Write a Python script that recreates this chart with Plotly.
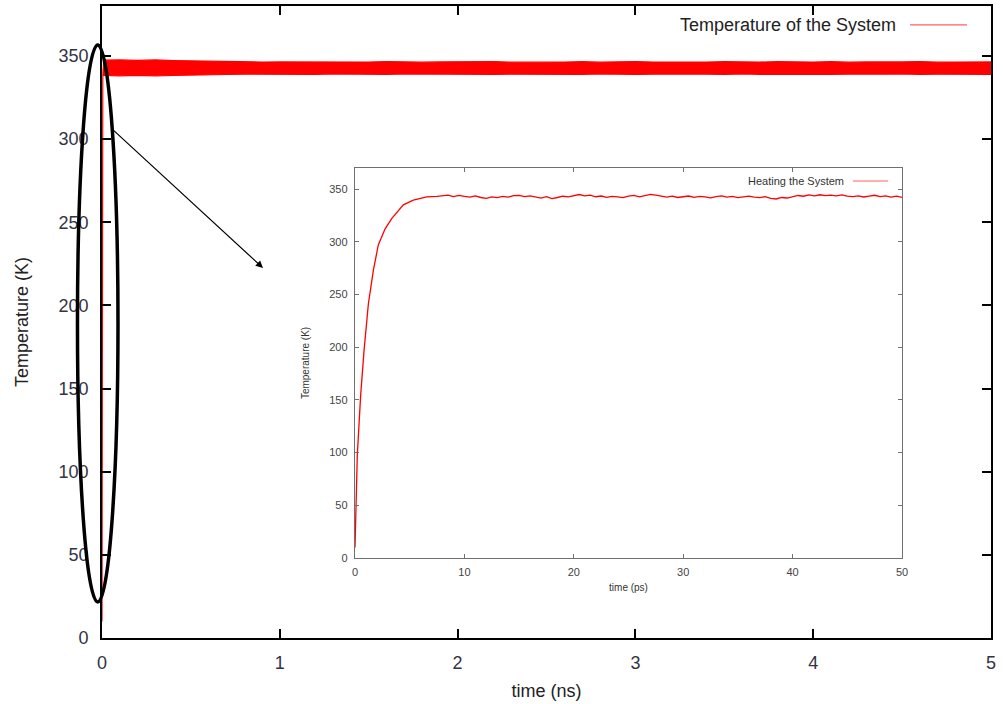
import plotly.graph_objects as go

# ---------------- data ----------------
# Heating ramp (inset), time in ps, temperature in K
ramp_t_ps = [0.0, 0.05, 0.21, 0.52, 0.82, 1.22, 1.68, 2.13, 2.74, 3.35, 3.96, 4.42, 5.33, 6.55, 7.5]
ramp_K = [10, 40, 98, 155, 196, 241, 273, 297, 312, 322, 330, 335, 339.5, 342.5, 343.0]

# Plateau of the inset curve (ps, K)
plateau_t_ps = [8.0, 8.5, 9.0, 9.5, 10.0, 10.5, 11.0, 11.5, 12.0, 12.5, 13.0, 13.5, 14.0, 14.5,
                15.0, 15.5, 16.0, 16.5, 17.0, 17.5, 18.0, 18.5, 19.0, 19.5, 20.0, 20.5, 21.0, 21.5,
                22.0, 22.5, 23.0, 23.5, 24.0, 24.5, 25.0, 25.5, 26.0, 26.5, 27.0, 27.5, 28.0, 28.5,
                29.0, 29.5, 30.0, 30.5, 31.0, 31.5, 32.0, 32.5, 33.0, 33.5, 34.0, 34.5, 35.0, 35.5,
                36.0, 36.5, 37.0, 37.5, 38.0, 38.5, 39.0, 39.5, 40.0, 40.5, 41.0, 41.5, 42.0, 42.5,
                43.0, 43.5, 44.0, 44.5, 45.0, 45.5, 46.0, 46.5, 47.0, 47.5, 48.0, 48.5, 49.0, 49.5, 50.0]
plateau_K = [343.5, 344.2, 342.8, 344.0, 343.1, 342.4, 343.6, 342.0, 341.2, 342.5, 341.8, 343.0, 342.3, 343.8,
             344.1, 342.9, 343.5, 342.2, 341.5, 342.8, 341.0, 342.0, 343.2, 342.6, 344.0, 344.8, 343.5, 344.3,
             342.7, 343.4, 342.1, 343.0, 342.5, 341.8, 343.2, 344.0, 342.6, 343.8, 344.9, 344.2, 343.0, 342.4,
             343.3, 342.0, 342.7, 343.4, 342.2, 343.1, 342.5, 341.6, 342.8, 343.6, 342.3, 343.0, 341.9, 342.6,
             343.3, 342.4, 341.8, 342.9, 341.2, 340.6, 342.0, 341.5, 342.8, 343.9, 343.2, 344.4, 343.6, 344.6,
             343.8, 344.2, 343.5, 344.5, 343.4, 342.8, 343.6, 342.5, 343.3, 344.1, 342.9, 343.6, 342.4, 343.3, 342.0]

# Main run: fluctuation band of the temperature (ns, K)
band_t_ns = [0.005, 0.1, 0.2, 0.3, 0.4, 0.5, 0.6, 0.7, 0.8, 0.9, 1.0, 1.1, 1.2, 1.3, 1.4, 1.5, 1.6,
             1.7, 1.8, 1.9, 2.0, 2.1, 2.2, 2.3, 2.4, 2.5, 2.6, 2.7, 2.8, 2.9, 3.0, 3.1, 3.2, 3.3,
             3.4, 3.5, 3.6, 3.7, 3.8, 3.9, 4.0, 4.1, 4.2, 4.3, 4.4, 4.5, 4.6, 4.7, 4.8, 4.9, 5.0]
band_upper_K = [347.4, 347.6, 347.3, 347.6, 347.2, 347.0, 346.6, 346.4, 346.5, 346.3, 346.4, 346.3, 346.5,
                346.2, 346.4, 346.3, 346.6, 346.3, 346.2, 346.4, 346.5, 346.3, 346.6, 346.2, 346.4, 346.2,
                346.3, 346.5, 346.2, 346.4, 346.6, 346.3, 346.2, 346.4, 346.3, 346.5, 346.2, 346.3, 346.5,
                346.2, 346.3, 346.5, 346.2, 346.4, 346.3, 346.4, 346.6, 346.2, 346.3, 346.5, 346.4]
band_lower_K = [338.2, 338.0, 338.3, 338.0, 338.2, 338.5, 338.9, 338.8, 339.0, 338.9, 339.1, 339.0, 338.8,
                339.1, 338.9, 339.0, 338.8, 339.1, 339.0, 338.9, 339.1, 339.0, 338.8, 339.0, 338.9, 339.1,
                339.0, 338.8, 339.1, 338.9, 338.8, 339.0, 339.1, 338.9, 339.0, 338.8, 339.1, 338.9, 338.8,
                339.1, 339.0, 338.9, 339.0, 338.8, 339.0, 339.1, 338.8, 339.0, 338.9, 339.0, 338.9]

main_xticks = [0, 1, 2, 3, 4, 5]
main_yticks = [0, 50, 100, 150, 200, 250, 300, 350]
inset_xticks = [0, 10, 20, 30, 40, 50]
inset_yticks = [0, 50, 100, 150, 200, 250, 300, 350]

main_legend = "Temperature of the System"
inset_legend = "Heating the System"

# ---------------- figure ----------------
RED = "#ff0000"
FONT = "Liberation Sans, Arial"
fig = go.Figure()

# main plot: ramp at t≈0 (converted ps -> ns)
fig.add_trace(go.Scatter(x=[t / 1000.0 for t in ramp_t_ps], y=ramp_K, mode="lines",
                         line=dict(color=RED, width=1.2), name=main_legend, showlegend=False,
                         xaxis="x", yaxis="y"))
fig.add_trace(go.Scatter(x=band_t_ns, y=band_upper_K, mode="lines",
                         line=dict(color=RED, width=1.2), showlegend=False, xaxis="x", yaxis="y"))
fig.add_trace(go.Scatter(x=band_t_ns, y=band_lower_K, mode="lines", fill="tonexty",
                         fillcolor=RED, line=dict(color=RED, width=1.2), showlegend=False,
                         xaxis="x", yaxis="y"))

# inset: heating curve
fig.add_trace(go.Scatter(x=ramp_t_ps + plateau_t_ps, y=ramp_K + plateau_K, mode="lines",
                         line=dict(color=RED, width=1.3), name=inset_legend, showlegend=False,
                         xaxis="x2", yaxis="y2"))

main_axis_common = dict(showgrid=False, zeroline=False, showline=True, linecolor="black",
                        linewidth=1.6, mirror="ticks", ticks="inside", ticklen=9, tickwidth=1.5,
                        tickcolor="black", tickfont=dict(family=FONT, size=18, color="#333344"))
inset_axis_common = dict(showgrid=False, zeroline=False, showline=True, linecolor="#707070",
                         linewidth=1.4, mirror="ticks", ticks="inside", ticklen=4, tickwidth=1,
                         tickcolor="#707070", tickfont=dict(family=FONT, size=11, color="#444444"))

fig.update_layout(
    width=1003, height=704,
    margin=dict(l=102, r=12, t=6, b=66),
    paper_bgcolor="white", plot_bgcolor="white",
    template="none",
    showlegend=False,
    xaxis=dict(range=[0, 5], tickvals=main_xticks, ticklabelstandoff=8,
               title=dict(text="time (ns)", standoff=12,
                          font=dict(family=FONT, size=18, color="#222222")),
               **main_axis_common),
    yaxis=dict(range=[0, 380], tickvals=main_yticks, ticklabelstandoff=8,
               title=dict(text="Temperature (K)", standoff=25,
                          font=dict(family=FONT, size=18, color="#222222")),
               **main_axis_common),
    xaxis2=dict(domain=[0.2846, 0.8999], anchor="y2", range=[0, 50], tickvals=inset_xticks,
                ticklabelstandoff=4,
                title=dict(text="time (ps)", standoff=6,
                           font=dict(family=FONT, size=10, color="#333333")),
                **inset_axis_common),
    yaxis2=dict(domain=[0.1266, 0.7437], anchor="x2", range=[0, 370], tickvals=inset_yticks,
                ticklabelstandoff=4,
                title=dict(text="Temperature (K)", standoff=17,
                           font=dict(family=FONT, size=10, color="#333333")),
                **inset_axis_common),
)

shapes = [
    # highlight ellipse around the t≈0 ramp
    dict(type="circle", xref="paper", yref="paper", x0=-0.0276, x1=0.018, y0=0.057, y1=0.9383,
         line=dict(color="black", width=3.5), layer="above"),
    # legend sample lines
    dict(type="line", xref="paper", yref="paper", x0=0.9089, x1=0.9730, y0=0.970, y1=0.970,
         line=dict(color="#ff6060", width=1.2)),
    dict(type="line", xref="paper", yref="paper", x0=0.8448, x1=0.8841, y0=0.7231, y1=0.7231,
         line=dict(color="#ff6060", width=1)),
]
fig.update_layout(shapes=shapes)

fig.add_annotation(x=0.8954, y=0.970, xref="paper", yref="paper", text=main_legend,
                   showarrow=False, xanchor="right", yanchor="middle",
                   font=dict(family=FONT, size=18, color="#222222"))
fig.add_annotation(x=0.8369, y=0.7231, xref="paper", yref="paper", text=inset_legend,
                   showarrow=False, xanchor="right", yanchor="middle",
                   font=dict(family=FONT, size=11, color="#333333"))

# arrow from the ellipse to the inset
fig.add_annotation(x=(263 - 102) / 889, y=(638 - 268) / 632, xref="paper", yref="paper",
                   ax=-152, ay=-140, axref="pixel", ayref="pixel", text="", showarrow=True,
                   arrowhead=2, arrowsize=1.2, arrowwidth=1.2, arrowcolor="black")

fig.write_html("out.html",
               config={"displayModeBar": False},
               post_script="document.body.style.margin='0';document.body.style.overflow='hidden';")
